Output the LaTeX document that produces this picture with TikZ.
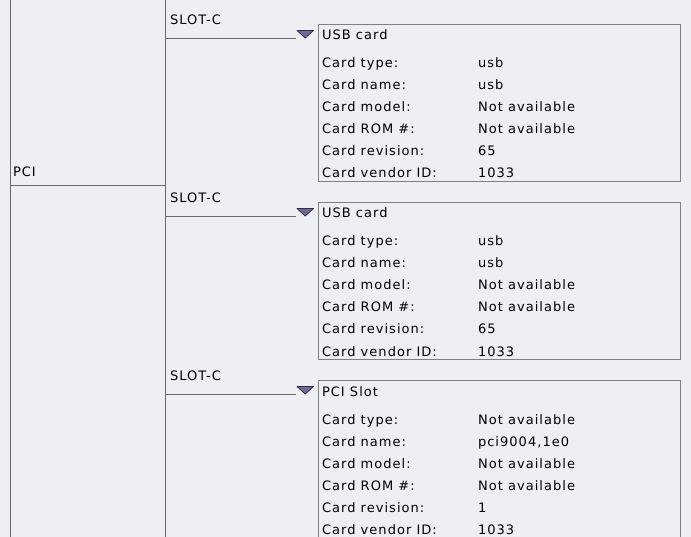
\documentclass[tikz,border=0pt]{standalone}
\usepackage{fontspec}
\newfontfamily\genfont[LetterSpace=8]{DejaVu Sans}
\definecolor{bgc}{HTML}{EFEEF2}
\definecolor{linec}{HTML}{6A6A6C}
\definecolor{boxc}{HTML}{808082}
\definecolor{txtc}{HTML}{000000}
\definecolor{tric}{HTML}{6E6C96}
\definecolor{tridark}{HTML}{2E2D48}
\tikzset{
  treeline/.style={draw=linec, line width=1pt},
  cardbox/.style={draw=boxc, line width=1.1pt},
  lbl/.style={anchor=base west, inner sep=0pt, outer sep=0pt, text=txtc,
    font=\genfont\fontsize{13}{15}\selectfont},
  tri/.style={fill=tric, draw=tridark, line width=0.8pt, line join=round},
}
% #1 index, #2 vertical offset, #3 header, #4-#9 values
\newcommand\slotpanel[9]{%
  \node[lbl] (slot#1) at (170,{25+#2}) {SLOT-C};
  \coordinate (trunk#1) at (165.5,{38.5+#2});
  \coordinate (tri#1) at (296,{38.5+#2});
  \draw[treeline] (trunk#1) -- (tri#1);
  \path[tri] (297,{30.5+#2}) -- (313.5,{30.5+#2}) -- (305.25,{38+#2}) -- cycle;
  \draw[cardbox] (318.5,{24.5+#2}) rectangle (680.5,{181.5+#2});
  \node[lbl] (hdr#1) at (322,{40+#2}) {#3};
  \node[lbl] (ka#1) at (322,{68+#2}) {Card type:};
  \node[lbl] (kb#1) at (322,{90+#2}) {Card name:};
  \node[lbl] (kc#1) at (322,{112+#2}) {Card model:};
  \node[lbl] (kd#1) at (322,{134+#2}) {Card ROM \#:};
  \node[lbl] (ke#1) at (322,{156+#2}) {Card revision:};
  \node[lbl] (kf#1) at (322,{178+#2}) {Card vendor ID:};
  \node[lbl] (va#1) at (478,{68+#2}) {#4};
  \node[lbl] (vb#1) at (478,{90+#2}) {#5};
  \node[lbl] (vc#1) at (478,{112+#2}) {#6};
  \node[lbl] (vd#1) at (478,{134+#2}) {#7};
  \node[lbl] (ve#1) at (478,{156+#2}) {#8};
  \node[lbl] (vf#1) at (478,{178+#2}) {#9};
}
\begin{document}
\begin{tikzpicture}[x=1pt,y=-1pt]
\useasboundingbox (0,0) rectangle (691,537);
\clip (0,0) rectangle (691,537);
\fill[bgc] (0,0) rectangle (691,537);
% trunks
\coordinate (rootTop) at (10.5,0);
\coordinate (rootBot) at (10.5,537);
\coordinate (pciEnd) at (10.5,185.5);
\coordinate (busTop) at (165.5,0);
\coordinate (busBot) at (165.5,537);
\coordinate (busJoin) at (165.5,185.5);
\draw[treeline] (rootTop) -- (rootBot);
\draw[treeline] (busTop) -- (busBot);
\node[lbl] (pci) at (13,177) {PCI};
\draw[treeline] (pciEnd) -- (busJoin);
\slotpanel{1}{0}{USB card}{usb}{usb}{Not available}{Not available}{65}{1033}
\slotpanel{2}{178}{USB card}{usb}{usb}{Not available}{Not available}{65}{1033}
\slotpanel{3}{356}{PCI Slot}{Not available}{pci9004,1e0}{Not available}{Not available}{1}{1033}
\end{tikzpicture}
\end{document}
